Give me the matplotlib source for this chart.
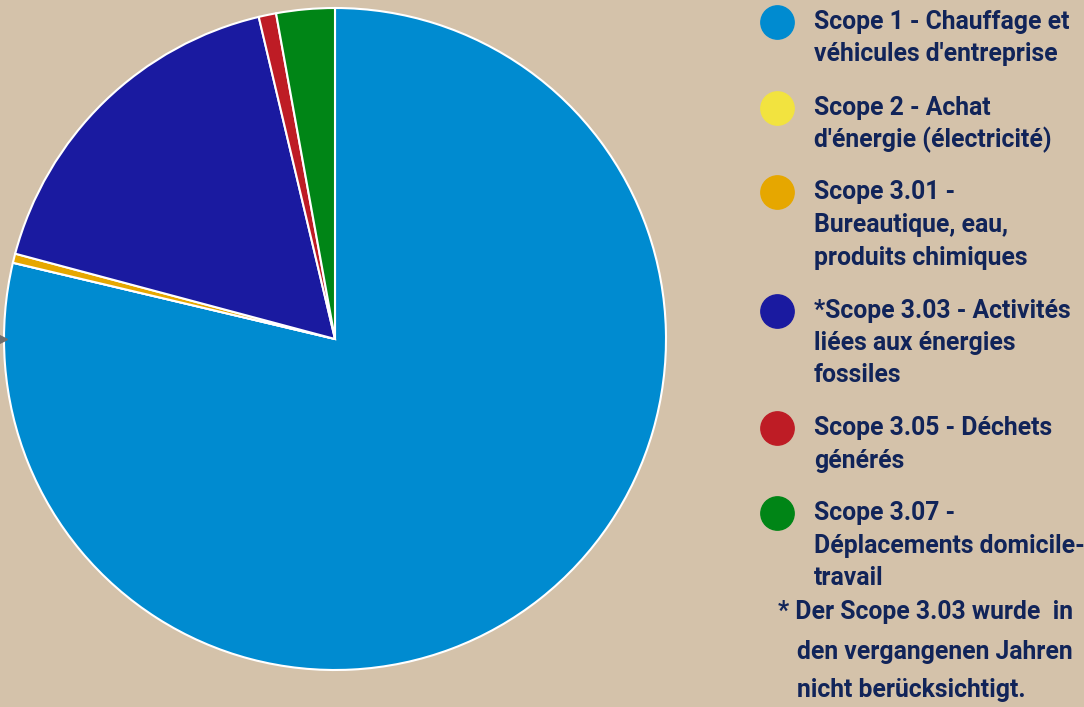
import matplotlib.pyplot as plt
from matplotlib.lines import Line2D

# données
labels = ['Scope 1 - Chauffage et\nvéhicules d\'entreprise',
          'Scope 2 - Achat\nd\'énergie (électricité)',
          'Scope 3.01 -\nBureautique, eau,\nproduits chimiques',
          '*Scope 3.03 - Activités\nliées aux énergies\nfossiles',
          'Scope 3.05 - Déchets\ngénérés',
          'Scope 3.07 -\nDéplacements domicile-\ntravail']
values = [78.7, 0.0, 0.45, 17.15, 0.85, 2.85]
colors = ['#008bd0', '#f2e33f', '#e6a700', '#1a1aa0', '#be1c25', '#008516']
footnote = ['* Der Scope 3.03 wurde  in', 'den vergangenen Jahren', 'nicht berücksichtigt.']

bg = '#d4c2aa'
txt_col = '#112459'
plt.rcParams['font.family'] = ['Roboto', 'DejaVu Sans']

W, H = 1084, 707
fig = plt.figure(figsize=(W / 100, H / 100), dpi=100, facecolor=bg)

# camembert
cx, cy, r = 335, 339, 331
ax = fig.add_axes([(cx - r) / W, (H - cy - r) / H, 2 * r / W, 2 * r / H])
ax.set_facecolor(bg)
wedges, _ = ax.pie(values, colors=colors, startangle=90, counterclock=False, radius=1,
                   wedgeprops=dict(edgecolor='white', linewidth=1.5))
for w in wedges:
    w.set_clip_on(False)
ax.set_xlim(-1, 1)
ax.set_ylim(-1, 1)
ax.axis('off')

# petite flèche grise à gauche
fig.add_artist(Line2D([2 / W], [1 - 339 / H], marker='>', color='#6e6e6e',
                      markersize=7, transform=fig.transFigure))

# légende
fs = 17.8
line_y = [[22, 54], [108, 140], [192, 225, 258], [311, 343, 375], [428, 461], [513, 546, 578]]
for lab, col, ys in zip(labels, colors, line_y):
    fig.add_artist(Line2D([777 / W], [1 - ys[0] / H], marker='o', color=col,
                          markersize=24, transform=fig.transFigure))
    for line, y in zip(lab.split('\n'), ys):
        fig.text(814 / W, 1 - y / H, line, color=txt_col, fontsize=fs,
                 fontweight='bold', va='center', ha='left')

# note
for i, (line, y) in enumerate(zip(footnote, [612, 652, 690])):
    x = 778 if i == 0 else 797
    fig.text(x / W, 1 - y / H, line, color=txt_col, fontsize=fs,
             fontweight='bold', va='center', ha='left')

fig.savefig('out.png', dpi=100, facecolor=bg)
